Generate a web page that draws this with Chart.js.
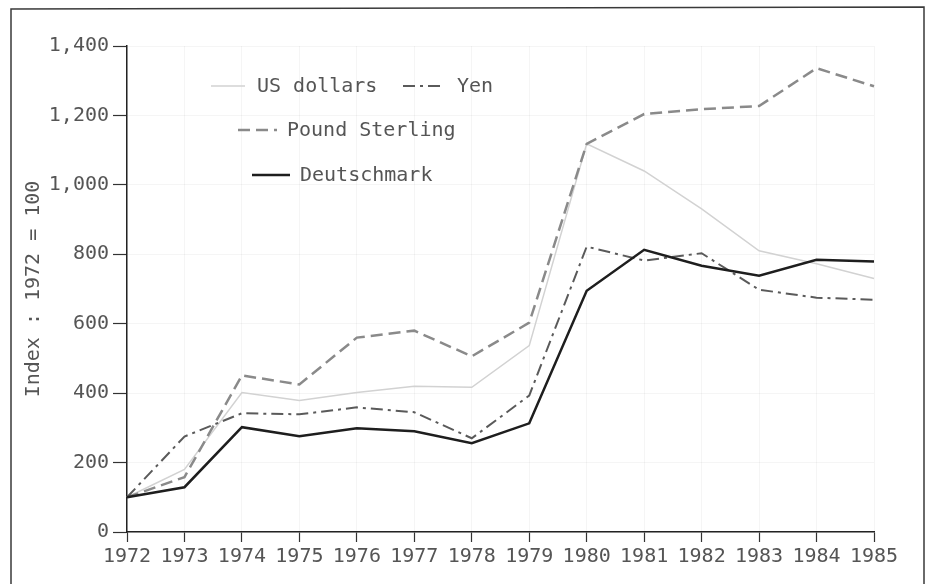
<!DOCTYPE html>
<html>
<head>
<meta charset="utf-8">
<script src="https://cdn.jsdelivr.net/npm/chart.js@4"></script>
<style>
  html, body { margin: 0; padding: 0; background: #fff; }
  #wrap { width: 933px; height: 584px; }
</style>
</head>
<body>
<div id="wrap"><canvas id="canvas" width="933" height="584"></canvas></div>
<script>
const years = ["1972", "1973", "1974", "1975", "1976", "1977", "1978", "1979", "1980", "1981", "1982", "1983", "1984", "1985"];
const usDollars = [100, 180, 402, 379, 402, 420, 417, 537, 1118, 1040, 931, 810, 773, 730];
const yen = [100, 275, 342, 339, 359, 345, 270, 393, 822, 782, 803, 698, 675, 669];
const poundSterling = [100, 158, 451, 425, 560, 580, 506, 603, 1118, 1204, 1218, 1227, 1336, 1284];
const deutschmark = [100, 129, 302, 276, 299, 290, 256, 313, 695, 813, 767, 738, 784, 779];
const yTicks = [0, 200, 400, 600, 800, 1000, 1200, 1400];

const FONT = "'DejaVu Sans Mono', monospace";
const TEXT = "#555555";

// legend is drawn inside the plot, offsets from the chart area corner
const legendRows = [
  { ds: "US dollars", line: [84, 118], text: 130, dy: 40 },
  { ds: "Yen", line: [276, 317], text: 330, dy: 40 },
  { ds: "Pound Sterling", line: [111, 150], text: 160, dy: 84 },
  { ds: "Deutschmark", line: [125, 163], text: 173, dy: 129 },
];

const framePlugin = {
  id: "frame",
  beforeDraw(chart) {
    const c = chart.ctx;
    c.save();
    c.fillStyle = "#fff";
    c.fillRect(0, 0, chart.width, chart.height);
    c.strokeStyle = "#3a3a3a";
    c.lineWidth = 1.5;
    c.beginPath();
    c.moveTo(11, chart.height + 5);
    c.lineTo(11, 9);
    c.lineTo(924, 7);
    c.lineTo(924, chart.height + 5);
    c.stroke();
    c.restore();
  },
  afterDraw(chart) {
    const c = chart.ctx;
    const a = chart.chartArea;
    c.save();
    c.font = "20px " + FONT;
    c.textBaseline = "middle";
    c.fillStyle = TEXT;
    legendRows.forEach(function (r) {
      const d = chart.data.datasets.find(function (x) { return x.label === r.ds; });
      const y = a.top + r.dy;
      c.strokeStyle = d.borderColor;
      c.lineWidth = d.borderWidth;
      c.setLineDash(d.borderDash || []);
      c.beginPath();
      c.moveTo(a.left + r.line[0], y);
      c.lineTo(a.left + r.line[1], y);
      c.stroke();
      c.setLineDash([]);
      c.fillText(r.ds, a.left + r.text, y + 1);
    });
    c.restore();
  },
};

const ctx = document.getElementById("canvas").getContext("2d");
const myChart = new Chart(ctx, {
  type: "line",
  data: {
    labels: years,
    datasets: [
      {
        label: "Deutschmark",
        data: deutschmark,
        borderColor: "#1e1e1e",
        borderWidth: 2.5,
      },
      {
        label: "Yen",
        data: yen,
        borderColor: "#5a5a5a",
        borderWidth: 2,
        borderDash: [12, 5, 3, 5],
      },
      {
        label: "Pound Sterling",
        data: poundSterling,
        borderColor: "#8a8a8a",
        borderWidth: 2.5,
        borderDash: [12, 6],
      },
      {
        label: "US dollars",
        data: usDollars,
        borderColor: "#d2d2d2",
        borderWidth: 1.5,
      },
    ],
  },
  options: {
    responsive: false,
    animation: false,
    layout: { padding: { left: 18, right: 59, top: 46, bottom: 0 } },
    elements: {
      point: { radius: 0 },
      line: { tension: 0, fill: false },
    },
    plugins: {
      legend: { display: false },
      tooltip: { enabled: false },
    },
    scales: {
      x: {
        offset: false,
        grid: {
          color: "rgba(0,0,0,0.04)",
          tickColor: "#333",
          tickLength: 10,
          tickWidth: 1.2,
        },
        border: { color: "#222", width: 1.5 },
        ticks: {
          color: TEXT,
          font: { family: FONT, size: 20 },
          padding: 3,
          maxRotation: 0,
          autoSkip: false,
        },
        afterFit(scale) { scale.height = 52; },
      },
      y: {
        min: 0,
        max: 1400,
        afterBuildTicks(scale) {
          scale.ticks = yTicks.map(function (v) { return { value: v }; });
        },
        grid: {
          color: "rgba(0,0,0,0.04)",
          tickColor: "#333",
          tickLength: 14,
          tickWidth: 1.2,
        },
        border: { color: "#222", width: 1.5 },
        ticks: {
          color: TEXT,
          font: { family: FONT, size: 20 },
          padding: 4,
          callback: function (v) { return v.toLocaleString("en-US"); },
        },
        title: {
          display: true,
          text: "Index : 1972 = 100",
          color: TEXT,
          font: { family: FONT, size: 20 },
          padding: { top: 4, bottom: 0 },
        },
        afterFit(scale) { scale.width = 127 - 18; },
      },
    },
  },
  plugins: [framePlugin],
});
</script>
</body>
</html>
